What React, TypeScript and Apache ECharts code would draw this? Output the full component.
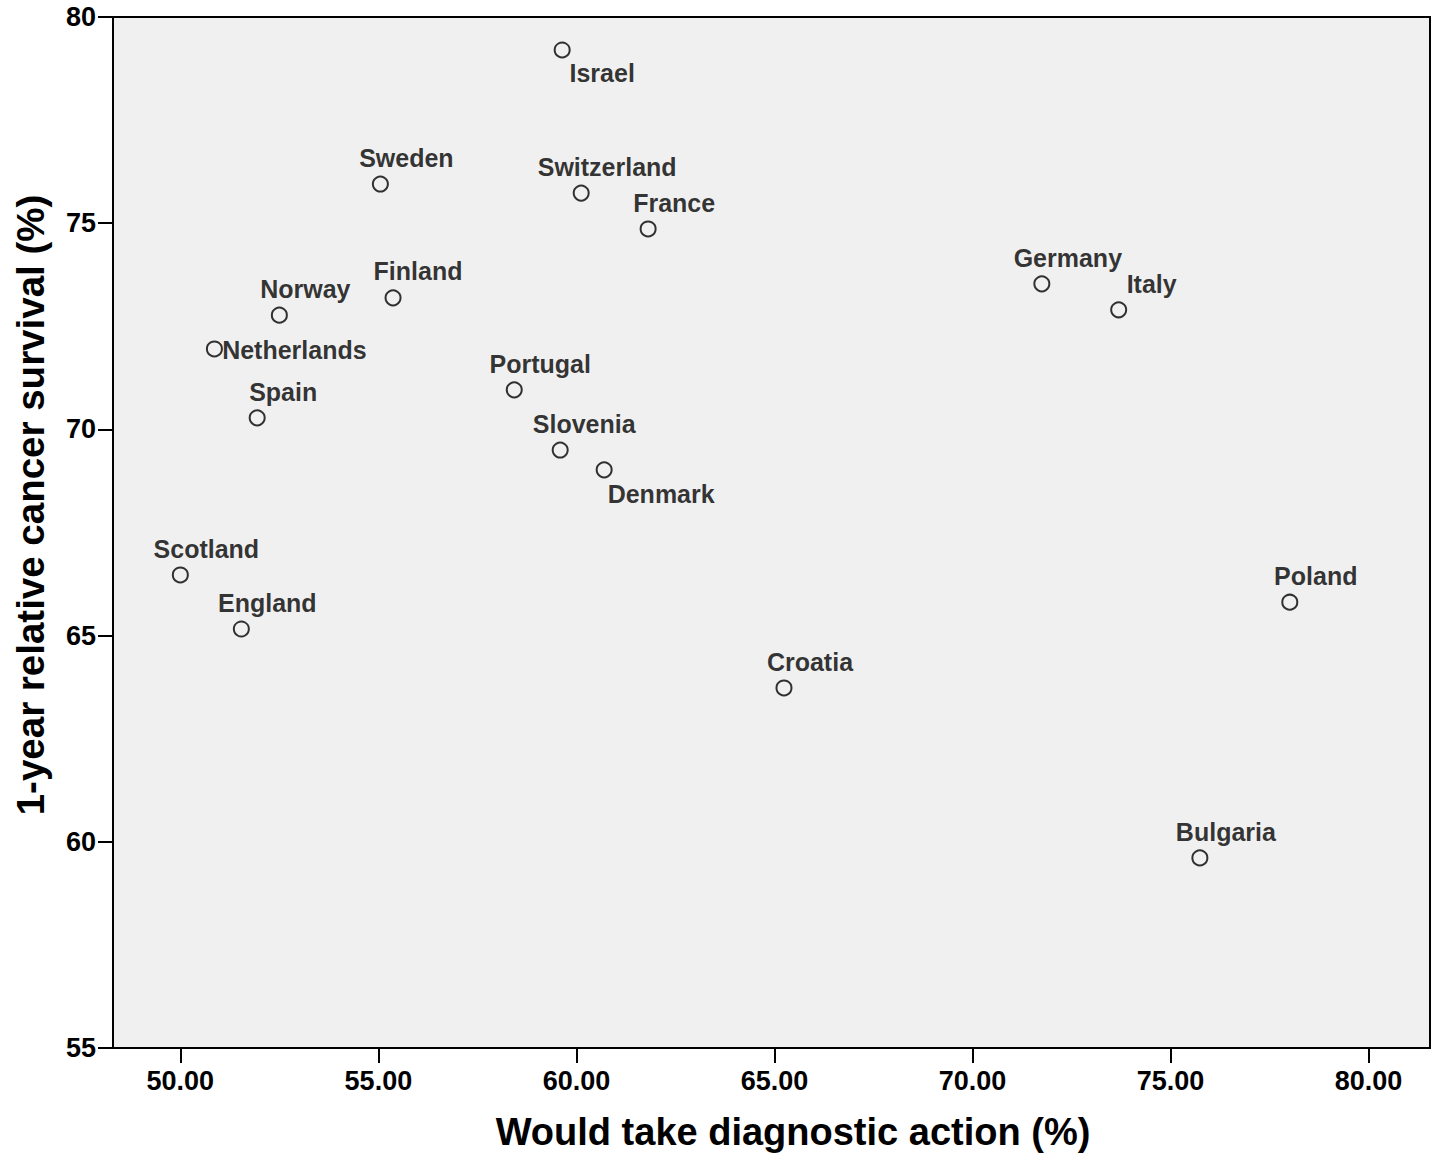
import React, { useEffect, useRef } from "react";
import * as echarts from "echarts";

const countries = [
  "Israel", "Sweden", "Switzerland", "France", "Germany", "Italy", "Norway", "Finland",
  "Netherlands", "Portugal", "Spain", "Slovenia", "Denmark", "Scotland", "England",
  "Croatia", "Poland", "Bulgaria",
];
const diagnosticAction = [
  59.64, 55.05, 60.12, 61.81, 71.75, 73.69, 52.5, 55.37,
  50.86, 58.43, 51.94, 59.59, 60.7, 50.0, 51.54,
  65.24, 78.01, 75.74,
];
const survival = [
  79.2, 75.95, 75.73, 74.86, 73.53, 72.9, 72.77, 73.19,
  71.95, 70.96, 70.28, 69.5, 69.02, 66.47, 65.16,
  63.73, 65.81, 59.61,
];
const xTicks = [50, 55, 60, 65, 70, 75, 80];
const xTitle = "Would take diagnostic action (%)";
const yTitle = "1-year relative cancer survival (%)";

// label placement offsets (style)
const defaultOffset = [26, -26];
const labelOffsets: Record<string, number[]> = {
  Israel: [40, 23],
  Denmark: [57, 24],
  Italy: [33, -26],
  Netherlands: [80, 1],
  Finland: [25, -27],
  Slovenia: [24, -26],
};

export default function App() {
  const ref = useRef<HTMLDivElement>(null);
  useEffect(() => {
    if (!ref.current) return;
    const chart = echarts.init(ref.current, undefined, { renderer: "svg" });
    const font = "'Liberation Sans', Arial, Helvetica, sans-serif";
    const data = countries.map((c, i) => ({
      name: c,
      value: [diagnosticAction[i], survival[i]],
      label: { offset: labelOffsets[c] || defaultOffset },
    }));
    chart.setOption({
      animation: false,
      backgroundColor: "#ffffff",
      grid: {
        left: 113,
        right: 9,
        top: 17,
        bottom: 109,
        show: true,
        backgroundColor: "#f0f0f0",
        borderColor: "#000",
        borderWidth: 2,
      },
      xAxis: {
        type: "value",
        min: 48.3,
        max: 81.55,
        splitLine: { show: false },
        axisLine: { show: true, lineStyle: { color: "#000", width: 2 } },
        axisTick: {
          show: true,
          customValues: xTicks,
          length: 15,
          lineStyle: { color: "#000", width: 2 },
        },
        axisLabel: {
          customValues: xTicks,
          formatter: (v: number) => v.toFixed(2),
          color: "#000",
          fontFamily: font,
          fontWeight: "bold",
          fontSize: 27,
          margin: 19,
        },
      },
      yAxis: {
        type: "value",
        min: 55,
        max: 80,
        interval: 5,
        splitLine: { show: false },
        axisLine: { show: true, lineStyle: { color: "#000", width: 2 } },
        axisTick: { show: true, length: 15, lineStyle: { color: "#000", width: 2 } },
        axisLabel: {
          color: "#000",
          fontFamily: font,
          fontWeight: "bold",
          fontSize: 27,
          margin: 17,
        },
      },
      series: [
        {
          type: "scatter",
          symbol: "circle",
          symbolSize: 15,
          itemStyle: { color: "#f0f0f0", borderColor: "#000", borderWidth: 2 },
          label: {
            show: true,
            position: "inside",
            formatter: "{b}",
            color: "#000",
            fontFamily: font,
            fontWeight: "bold",
            fontSize: 25,
          },
          data,
        },
      ],
      graphic: [
        {
          type: "text",
          x: 793,
          y: 1132,
          style: {
            text: xTitle,
            fill: "#000",
            font: `bold 38px ${font}`,
            textAlign: "center",
            textVerticalAlign: "middle",
          },
        },
        {
          type: "text",
          x: 30,
          y: 505,
          rotation: Math.PI / 2,
          style: {
            text: yTitle,
            fill: "#000",
            font: `bold 38.5px ${font}`,
            textAlign: "center",
            textVerticalAlign: "middle",
          },
        },
      ],
    });
    return () => chart.dispose();
  }, []);
  return (
    <div
      ref={ref}
      style={{ position: "absolute", left: 0, top: 0, width: 1439, height: 1157 }}
    />
  );
}
